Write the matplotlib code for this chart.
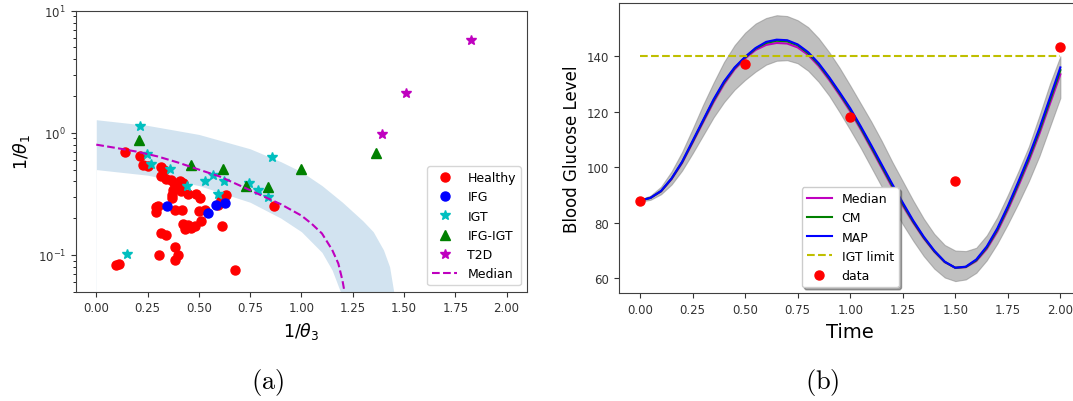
import matplotlib
matplotlib.use("Agg")
import matplotlib.pyplot as plt
import numpy as np

# ---------------- Panel (a) data ----------------
healthy_x = [0.141, 0.211, 0.230, 0.252, 0.317, 0.330, 0.317, 0.338, 0.364, 0.380,
             0.406, 0.425, 0.373, 0.413, 0.400, 0.445, 0.486, 0.507, 0.369, 0.371,
             0.292, 0.292, 0.300, 0.385, 0.417, 0.503, 0.531, 0.422, 0.445, 0.461,
             0.482, 0.510, 0.317, 0.341, 0.385, 0.396, 0.385, 0.308, 0.109, 0.097,
             0.612, 0.633, 0.610, 0.595, 0.677, 0.867, 0.431]
healthy_y = [0.69, 0.64, 0.55, 0.53, 0.52, 0.50, 0.44, 0.42, 0.41, 0.39,
             0.40, 0.385, 0.34, 0.335, 0.36, 0.316, 0.316, 0.29, 0.31, 0.29,
             0.246, 0.224, 0.25, 0.235, 0.235, 0.23, 0.235, 0.18, 0.175, 0.166,
             0.172, 0.19, 0.152, 0.145, 0.116, 0.10, 0.091, 0.100, 0.085, 0.082,
             0.172, 0.31, 0.28, 0.255, 0.075, 0.25, 0.163]
ifg_x = [0.346, 0.547, 0.585, 0.626]
ifg_y = [0.25, 0.22, 0.258, 0.267]
igt_x = [0.215, 0.249, 0.266, 0.357, 0.443, 0.528, 0.571, 0.621, 0.595, 0.744,
         0.787, 0.836, 0.858, 0.149]
igt_y = [1.13, 0.67, 0.56, 0.51, 0.365, 0.405, 0.45, 0.405, 0.315, 0.39,
         0.34, 0.30, 0.63, 0.102]
ifgigt_x = [0.208, 0.460, 0.620, 0.730, 0.835, 0.997, 1.366]
ifgigt_y = [0.88, 0.54, 0.51, 0.37, 0.36, 0.51, 0.686]
t2d_x = [1.829, 1.509, 1.395]
t2d_y = [5.75, 2.11, 0.98]

median_a_x = [0.0, 0.1, 0.2, 0.3, 0.4, 0.5, 0.6, 0.7, 0.8, 0.9, 1.0, 1.05, 1.1,
              1.15, 1.18, 1.2, 1.21]
median_a_y = [0.80, 0.75, 0.70, 0.64, 0.57, 0.50, 0.44, 0.37, 0.31, 0.26, 0.21,
              0.18, 0.15, 0.11, 0.085, 0.062, 0.05]

band_up_x = [0.0, 0.25, 0.5, 0.75, 0.9, 1.0, 1.1, 1.2, 1.3, 1.35, 1.4, 1.43, 1.45]
band_up_y = [1.28, 1.15, 0.97, 0.74, 0.58, 0.48, 0.37, 0.27, 0.19, 0.155, 0.11,
             0.08, 0.05]
band_lo_x = [0.0, 0.25, 0.5, 0.75, 0.9, 1.0, 1.1, 1.15, 1.19]
band_lo_y = [0.50, 0.45, 0.37, 0.27, 0.20, 0.155, 0.105, 0.075, 0.05]

# ---------------- Panel (b) data ----------------
t = [0.00, 0.05, 0.10, 0.15, 0.20, 0.25, 0.30, 0.35, 0.40, 0.45, 0.50, 0.55, 0.60,
     0.65, 0.70, 0.75, 0.80, 0.85, 0.90, 0.95, 1.00, 1.05, 1.10, 1.15, 1.20, 1.25,
     1.30, 1.35, 1.40, 1.45, 1.50, 1.55, 1.60, 1.65, 1.70, 1.75, 1.80, 1.85, 1.90,
     1.95, 2.00]
map_y = [88.0, 89.0, 91.5, 96.0, 102.0, 109.5, 117.0, 124.5, 131.0, 136.0, 139.8,
         143.0, 145.2, 146.0, 145.8, 144.3, 141.5, 137.5, 132.5, 127.0, 121.3,
         114.8, 108.0, 101.0, 94.0, 87.3, 80.8, 75.0, 70.0, 66.0, 63.8, 64.2,
         66.8, 71.5, 78.0, 86.0, 94.8, 104.0, 114.0, 125.0, 136.0]
cm_y = [88.0, 89.0, 91.4, 95.9, 101.8, 109.2, 116.7, 124.1, 130.6, 135.8, 139.6,
        142.8, 144.8, 145.6, 145.4, 144.0, 141.1, 137.1, 132.1, 126.6, 120.8,
        114.3, 107.4, 100.4, 93.4, 86.8, 80.4, 74.7, 69.8, 65.9, 63.8, 64.1,
        66.5, 71.1, 77.5, 85.4, 94.1, 103.2, 113.1, 124.0, 135.0]
median_b_y = [88.0, 89.0, 91.3, 95.7, 101.5, 108.8, 116.2, 123.5, 130.0, 135.3,
              139.2, 142.3, 144.1, 144.8, 144.6, 143.2, 140.5, 136.5, 131.5, 126.0,
              120.2, 113.7, 106.8, 99.8, 92.8, 86.2, 80.0, 74.4, 69.6, 65.8, 63.8,
              64.0, 66.2, 70.6, 76.8, 84.6, 93.2, 102.2, 112.0, 122.8, 133.5]
band_b_lo = [87.6, 88.3, 90.3, 93.8, 98.8, 105.0, 111.5, 118.0, 123.5, 128.0, 131.5,
             134.5, 137.0, 138.4, 138.6, 137.5, 134.8, 130.8, 125.8, 119.8, 113.5,
             107.0, 100.0, 93.0, 86.0, 79.5, 73.5, 68.0, 63.5, 60.3, 59.0, 59.6,
             62.0, 66.5, 72.5, 79.5, 87.0, 95.0, 104.0, 114.5, 125.0]
band_b_up = [88.4, 89.8, 93.0, 98.5, 105.5, 113.8, 122.5, 130.5, 138.0, 144.0, 148.5,
             151.8, 153.8, 154.8, 154.5, 153.0, 150.5, 146.5, 141.5, 135.8, 129.5,
             123.0, 116.5, 109.5, 102.0, 95.0, 88.0, 81.5, 76.0, 72.0, 70.0, 69.8,
             71.0, 75.5, 82.0, 90.0, 98.5, 107.5, 118.5, 130.0, 140.0]
igt_limit = 140
data_t = [0.0, 0.5, 1.0, 1.5, 2.0]
data_y = [88.0, 137.2, 118.2, 95.0, 143.2]

# ---------------- Figure ----------------
fig = plt.figure(figsize=(10.73, 4.02), dpi=100)
spine_col = '0.25'

ax1 = fig.add_axes([0.0706, 0.2719, 0.4206, 0.6990])
ax1.fill_between(band_up_x, band_up_y, 1e-3, color='C0', alpha=0.2, lw=0)
ax1.fill_between(band_lo_x + [1.6], band_lo_y + [1e-3], 1e-3, color='white', lw=0)
ax1.plot(healthy_x, healthy_y, 'ro', ms=6.5, label='Healthy')
ax1.plot(ifg_x, ifg_y, 'bo', ms=6.5, label='IFG')
ax1.plot(igt_x, igt_y, 'c*', ms=7.5, label='IGT')
ax1.plot(ifgigt_x, ifgigt_y, 'g^', ms=6.5, label='IFG-IGT')
ax1.plot(t2d_x, t2d_y, 'm*', ms=7.5, label='T2D')
ax1.plot(median_a_x, median_a_y, 'm--', lw=1.5, label='Median')
ax1.set_yscale('log')
ax1.set_xlim(-0.1, 2.1)
ax1.set_ylim(0.05, 10)
ax1.set_xticks([0.0, 0.25, 0.5, 0.75, 1.0, 1.25, 1.5, 1.75, 2.0])
ax1.set_xticklabels(['0.00', '0.25', '0.50', '0.75', '1.00', '1.25', '1.50', '1.75', '2.00'])
ax1.tick_params(labelsize=8.5, colors='0.2')
ax1.set_xlabel(r'$1/\theta_3$', fontsize=12.5)
ax1.set_ylabel(r'$1/\theta_1$', fontsize=12.5)
ax1.legend(loc='lower right', fontsize=9)
for s in ax1.spines.values():
    s.set_color(spine_col)

ax2 = fig.add_axes([0.5769, 0.2679, 0.4309, 0.7221])
ax2.fill_between(t, band_b_lo, band_b_up, color='gray', alpha=0.5, lw=0.8)
ax2.plot(t, median_b_y, 'm', lw=1.5, label='Median')
ax2.plot(t, cm_y, 'g', lw=1.5, label='CM')
ax2.plot(t, map_y, 'b', lw=1.5, label='MAP')
ax2.plot([t[0], t[-1]], [igt_limit, igt_limit], 'y--', lw=1.5, label='IGT limit')
ax2.plot(data_t, data_y, 'ro', ms=6.5, label='data')
ax2.set_xlim(-0.1, 2.1)
ax2.set_ylim(54.6, 159.2)
ax2.set_xticks([0.0, 0.25, 0.5, 0.75, 1.0, 1.25, 1.5, 1.75, 2.0])
ax2.set_xticklabels(['0.00', '0.25', '0.50', '0.75', '1.00', '1.25', '1.50', '1.75', '2.00'])
ax2.set_yticks([60, 80, 100, 120, 140])
ax2.tick_params(labelsize=8.5, colors='0.2')
ax2.set_xlabel('Time', fontsize=14)
ax2.set_ylabel('Blood Glucose Level', fontsize=12)
ax2.legend(loc='lower center', fontsize=9, shadow=True)
for s in ax2.spines.values():
    s.set_color(spine_col)

fig.text(268 / 1073, 1 - 383 / 402, r'$\mathrm{(a)}$', fontsize=19,
         ha='center', va='center', math_fontfamily='cm')
fig.text(822 / 1073, 1 - 383 / 402, r'$\mathrm{(b)}$', fontsize=19,
         ha='center', va='center', math_fontfamily='cm')

fig.savefig('out.png', dpi=100)
